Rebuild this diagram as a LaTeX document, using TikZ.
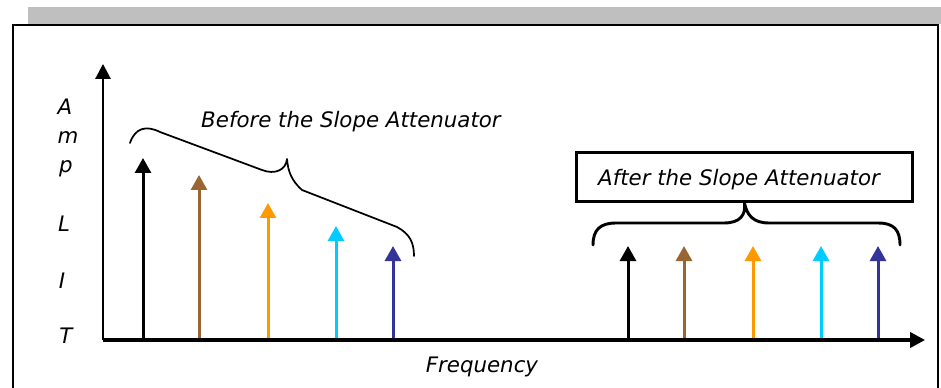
\documentclass[tikz,border=0pt]{standalone}
\usepackage{fontspec}
\setmainfont{DejaVu Sans}
\usetikzlibrary{arrows.meta}
\definecolor{barGray}{HTML}{BFBFBF}
\definecolor{spBrown}{HTML}{996633}
\definecolor{spOrange}{HTML}{FF9900}
\definecolor{spCyan}{HTML}{00CCFF}
\definecolor{spNavy}{HTML}{333399}
\tikzset{
  lbl/.style={font=\fontsize{16}{19}\selectfont\itshape, inner sep=0pt, anchor=base},
  spike/.style={line width=2.25pt, -{Triangle[length=11.25pt,width=12pt]}},
  axisline/.style={-{Triangle[length=11.25pt,width=11.5pt]}},
  bracepath/.style={line width=1.6pt, line cap=round, line join=round},
}
\begin{document}
\begin{tikzpicture}[x=0.75pt,y=-0.75pt]
\useasboundingbox (0,0) rectangle (941,388);
\clip (0,0) rectangle (941,388);
% header bar and frame
\fill[barGray] (27.5,7) rectangle (941,24.5);
\draw[line width=1.5pt] (12.8,400) -- (12.8,24.8) -- (938.3,24.8) -- (938.3,400);
% axes coordinates
\coordinate (O) at (103,340);
\coordinate (Ytip) at (103,64);
\coordinate (Xtip) at (925,340);
% left spikes
\foreach \n/\x/\t/\c in {1/143/158/black,2/199/175/spBrown,3/268/203/spOrange,4/336/226/spCyan,5/393/246/spNavy}{
  \coordinate (lb\n) at (\x,340);
  \coordinate (lt\n) at (\x,\t);
  \draw[spike,\c] (lb\n) -- (lt\n);
}
% right spikes
\foreach \n/\x/\c in {1/628/black,2/684/spBrown,3/753/spOrange,4/821/spCyan,5/878/spNavy}{
  \coordinate (rb\n) at (\x,340);
  \coordinate (rt\n) at (\x,246);
  \draw[spike,\c] (rb\n) -- (rt\n);
}
\draw[line width=1.5pt, axisline] (O) -- (Ytip);
\draw[line width=2.4pt, axisline] (O) -- (Xtip);
% y labels
\node[lbl] (lA) at (65,115) {A};
\node[lbl] (lm) at (68,144) {m};
\node[lbl] (lp) at (66,173) {p};
\node[lbl] (lL) at (64,231) {L};
\node[lbl] (lI) at (62,288) {I};
\node[lbl] (lT) at (66,343) {T};
% texts
\node[lbl] (before) at (351,128) {Before the Slope Attenuator};
\node[lbl] (freq) at (482,372) {Frequency};
\node[draw, line width=2.3pt, minimum width=252pt, minimum height=37pt, inner sep=0pt] (after) at (744.5,177) {};
\node[lbl] (aftertext) at (739,186) {After the Slope Attenuator};
% left brace
\draw[bracepath, line width=1.3pt] (130,143) .. controls (135,128) and (146,125) .. (160,132)
  -- (262,170) .. controls (275,175) and (286,170) .. (287,159)
  .. controls (288,172) and (292,181) .. (302,190)
  -- (397,227) .. controls (410,234) and (414,243) .. (414,256);
% right brace
\draw[bracepath, line width=2.2pt] (593,245) .. controls (593,230) and (600,223) .. (616,223)
  -- (724,223) .. controls (740,223) and (746,215) .. (after.south)
  .. controls (747,215) and (753,223) .. (769,223)
  -- (878,223) .. controls (894,223) and (900,230) .. (900,245);
\end{tikzpicture}
\end{document}
